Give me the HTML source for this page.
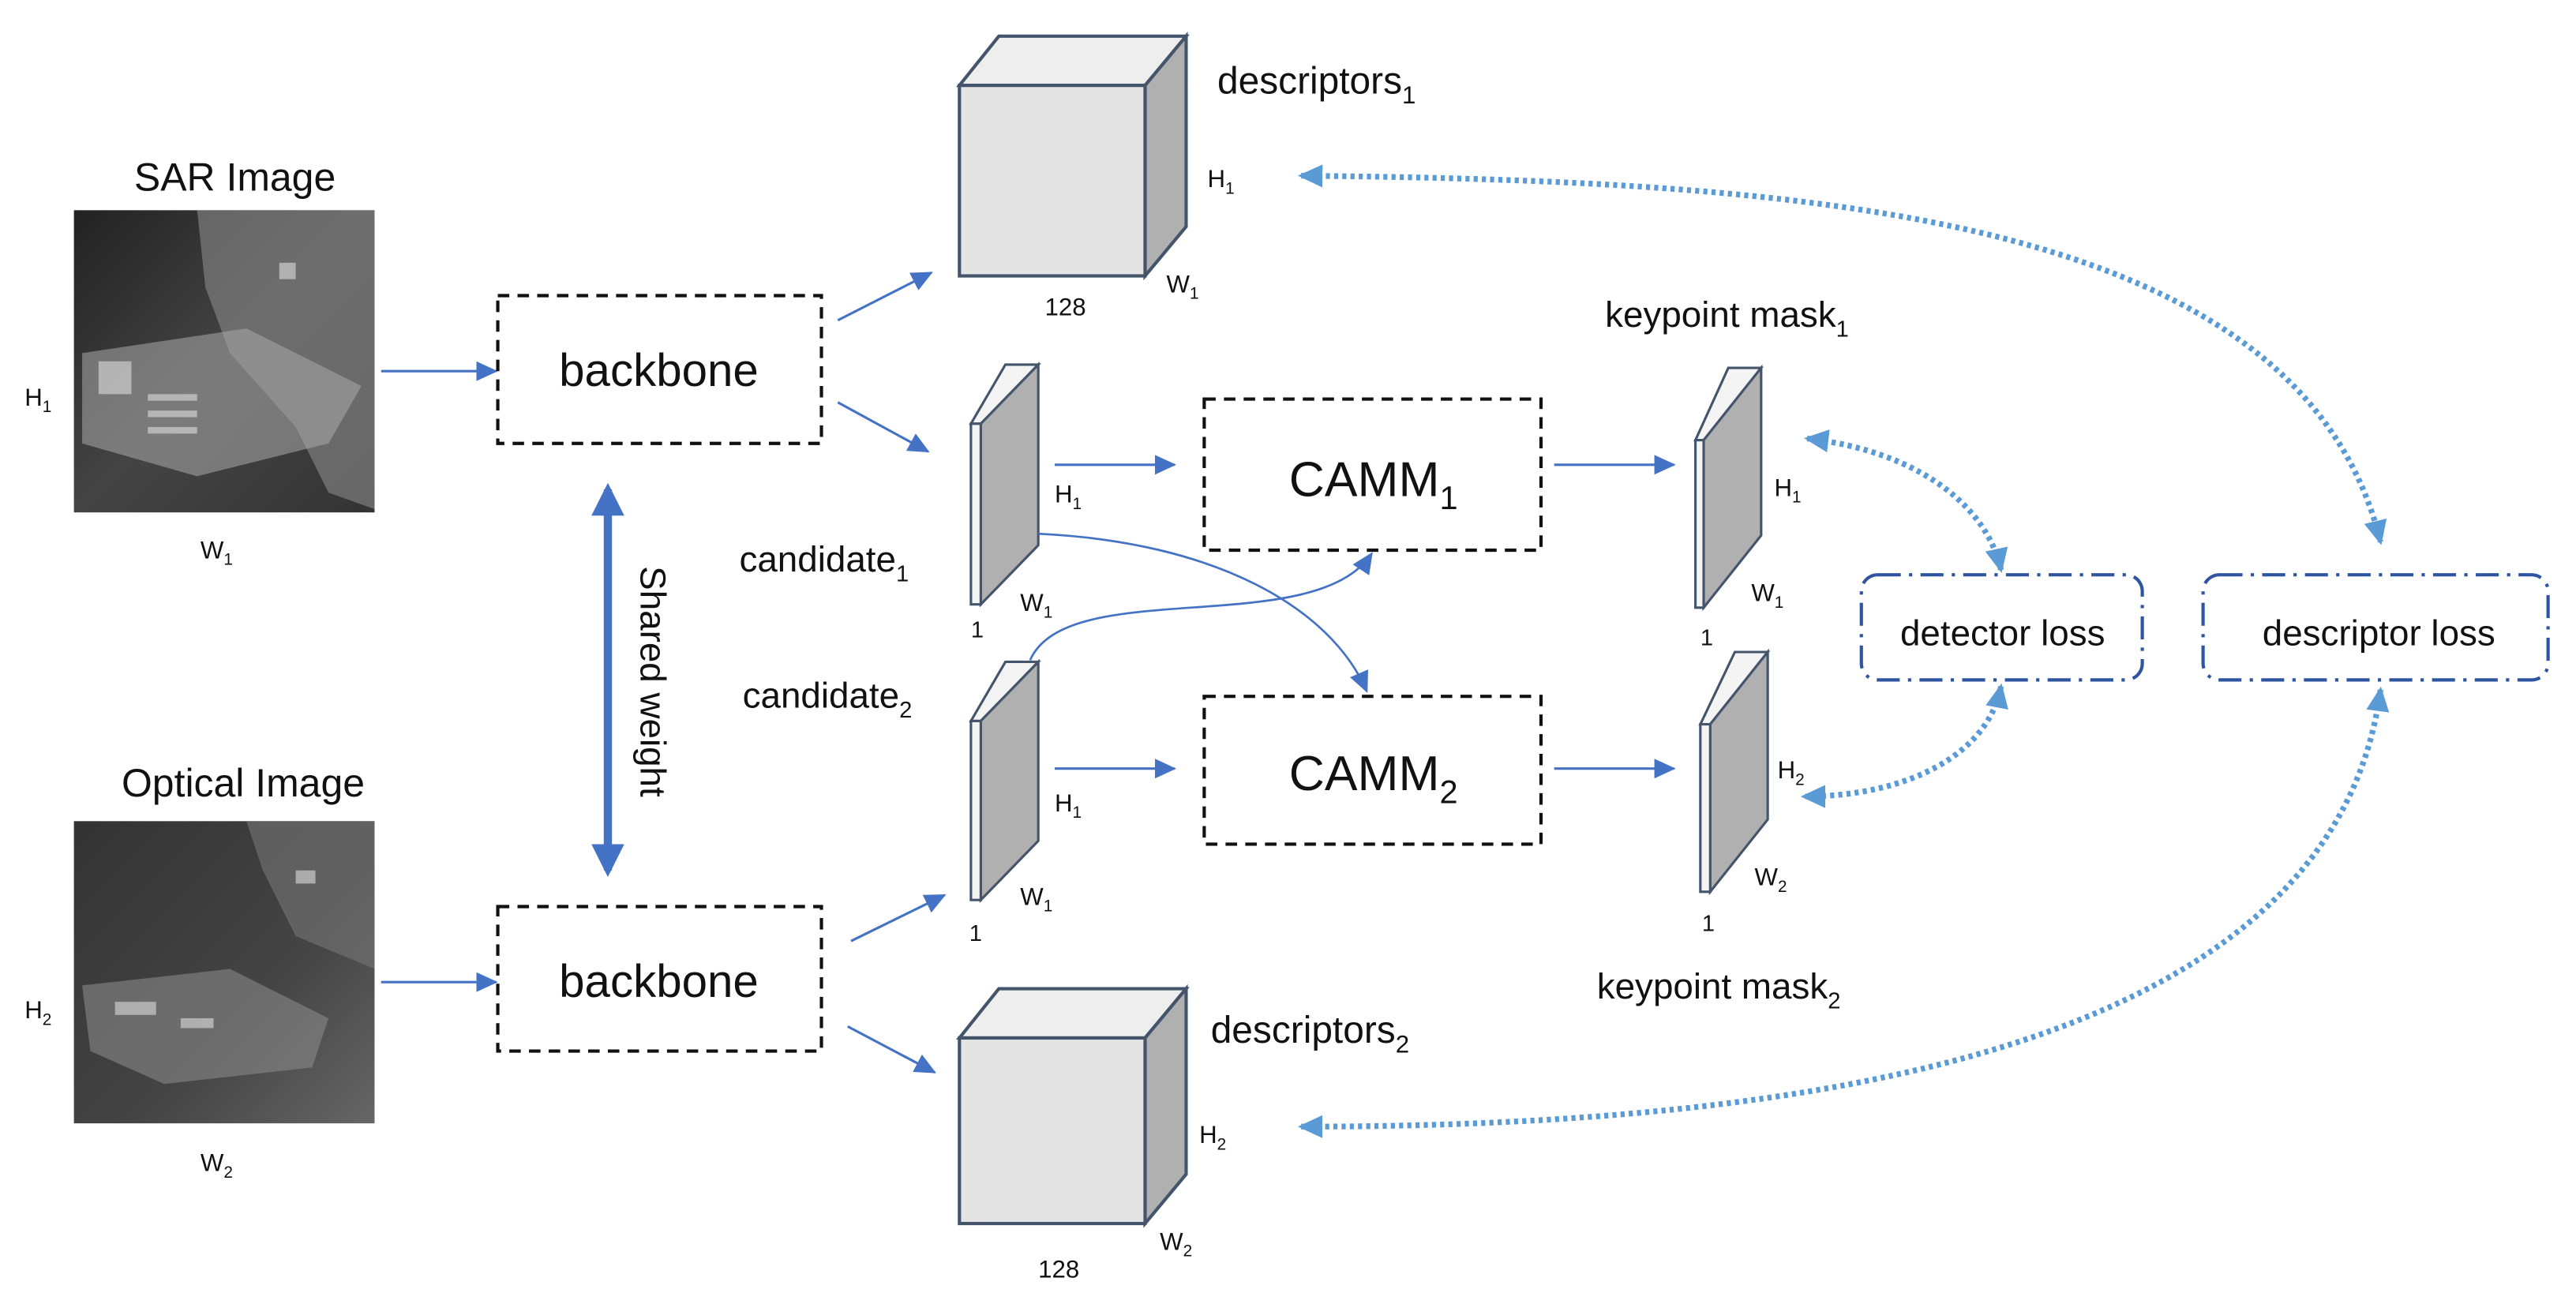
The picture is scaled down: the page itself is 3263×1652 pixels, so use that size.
<!DOCTYPE html>
<html><head><meta charset="utf-8"><style>
html,body{margin:0;padding:0;background:#fff;}
svg{display:block;}
text{font-family:"Liberation Sans",sans-serif;fill:#111;}
</style></head><body>
<svg width="3263" height="1652" viewBox="0 0 1568 794" preserveAspectRatio="none" xmlns="http://www.w3.org/2000/svg">
<defs>
<marker id="a" markerWidth="13" markerHeight="12" refX="12" refY="6" orient="auto" markerUnits="userSpaceOnUse"><path d="M0,0 L13,6 L0,12 z" fill="#4472c4"/></marker>
<marker id="d" markerWidth="16" markerHeight="16" refX="13" refY="8" orient="auto-start-reverse" markerUnits="userSpaceOnUse"><path d="M0,1 L15,8 L0,15 z" fill="#5b9bd5"/></marker>
<marker id="t" markerWidth="24" markerHeight="24" refX="16" refY="12" orient="auto-start-reverse" markerUnits="userSpaceOnUse"><path d="M0,2 L20,12 L0,22 z" fill="#4472c4"/></marker>
<linearGradient id="sar" x1="0" y1="0" x2="1" y2="1"><stop offset="0" stop-color="#222"/><stop offset="0.5" stop-color="#444"/><stop offset="1" stop-color="#333"/></linearGradient>
<linearGradient id="opt" x1="0" y1="0" x2="1" y2="1"><stop offset="0" stop-color="#333"/><stop offset="0.6" stop-color="#444"/><stop offset="1" stop-color="#666"/></linearGradient>
</defs>

<!-- SAR image -->
<text x="143" y="116" font-size="24" text-anchor="middle">SAR Image</text>
<rect x="45" y="128" width="183" height="184" fill="url(#sar)"/>
<path d="M120,128 L228,128 L228,310 L200,300 L180,260 L140,215 L125,175 z" fill="#8a8a8a" opacity="0.6"/>
<path d="M50,215 L150,200 L220,235 L200,270 L120,290 L50,270 z" fill="#aaa" opacity="0.55"/>
<g fill="#ddd" opacity="0.6"><rect x="90" y="240" width="30" height="4"/><rect x="90" y="250" width="30" height="4"/><rect x="90" y="260" width="30" height="4"/><rect x="170" y="160" width="10" height="10"/><rect x="60" y="220" width="20" height="20"/></g>
<text x="15" y="247" font-size="15">H<tspan font-size="10" dy="4">1</tspan></text>
<text x="122" y="340" font-size="15">W<tspan font-size="10" dy="4">1</tspan></text>
<line x1="232" y1="226" x2="302" y2="226" stroke="#4472c4" stroke-width="1.5" marker-end="url(#a)"/>
<rect x="303" y="180" width="197" height="90" fill="none" stroke="#111" stroke-width="2" stroke-dasharray="7,5"/>
<text x="401" y="235" font-size="28" text-anchor="middle">backbone</text>
<line x1="510" y1="195" x2="567" y2="166" stroke="#4472c4" stroke-width="1.5" marker-end="url(#a)"/>
<line x1="510" y1="245" x2="565" y2="275" stroke="#4472c4" stroke-width="1.5" marker-end="url(#a)"/>

<!-- cube 1 -->
<polygon points="584,52 608,22 722,22 697,52" fill="#eee" stroke="#44546a" stroke-width="2"/>
<polygon points="697,52 722,22 722,138 697,168" fill="#b0b0b0" stroke="#44546a" stroke-width="2"/>
<rect x="584" y="52" width="113" height="116" fill="#e4e4e4" stroke="#44546a" stroke-width="2"/>
<text x="741" y="57" font-size="23">descriptors<tspan font-size="15" dy="6">1</tspan></text>
<text x="735" y="114" font-size="15">H<tspan font-size="10" dy="4">1</tspan></text>
<text x="710" y="178" font-size="15">W<tspan font-size="10" dy="4">1</tspan></text>
<text x="636" y="192" font-size="15">128</text>

<!-- candidate1 -->
<polygon points="591,258 612,222 632,222 597,258" fill="#f4f4f4" stroke="#44546a" stroke-width="1.5"/>
<polygon points="597,258 632,222 632,332 597,368" fill="#b0b0b0" stroke="#44546a" stroke-width="1.5"/>
<rect x="591" y="258" width="6" height="110" fill="#f4f4f4" stroke="#44546a" stroke-width="1.5"/>
<text x="450" y="348" font-size="22">candidate<tspan font-size="14" dy="6">1</tspan></text>
<text x="642" y="306" font-size="15">H<tspan font-size="10" dy="4">1</tspan></text>
<text x="621" y="372" font-size="15">W<tspan font-size="10" dy="4">1</tspan></text>
<text x="591" y="388" font-size="14">1</text>
<line x1="642" y1="283" x2="715" y2="283" stroke="#4472c4" stroke-width="1.5" marker-end="url(#a)"/>
<rect x="733" y="243" width="205" height="92" fill="none" stroke="#111" stroke-width="2" stroke-dasharray="7,5"/>
<text x="836" y="302" font-size="30" text-anchor="middle">CAMM<tspan font-size="20" dy="8">1</tspan></text>
<line x1="946" y1="283" x2="1019" y2="283" stroke="#4472c4" stroke-width="1.5" marker-end="url(#a)"/>

<!-- candidate2 -->
<polygon points="591,439 612,403 632,403 597,439" fill="#f4f4f4" stroke="#44546a" stroke-width="1.5"/>
<polygon points="597,439 632,403 632,512 597,548" fill="#b0b0b0" stroke="#44546a" stroke-width="1.5"/>
<rect x="591" y="439" width="6" height="109" fill="#f4f4f4" stroke="#44546a" stroke-width="1.5"/>
<text x="452" y="431" font-size="22">candidate<tspan font-size="14" dy="6">2</tspan></text>
<text x="642" y="494" font-size="15">H<tspan font-size="10" dy="4">1</tspan></text>
<text x="621" y="551" font-size="15">W<tspan font-size="10" dy="4">1</tspan></text>
<text x="590" y="573" font-size="14">1</text>
<line x1="642" y1="468" x2="715" y2="468" stroke="#4472c4" stroke-width="1.5" marker-end="url(#a)"/>
<rect x="733" y="424" width="205" height="90" fill="none" stroke="#111" stroke-width="2" stroke-dasharray="7,5"/>
<text x="836" y="481" font-size="30" text-anchor="middle">CAMM<tspan font-size="20" dy="8">2</tspan></text>
<line x1="946" y1="468" x2="1019" y2="468" stroke="#4472c4" stroke-width="1.5" marker-end="url(#a)"/>

<!-- crossing curves -->
<path d="M632,325 C740,330 810,370 832,421" fill="none" stroke="#4472c4" stroke-width="1.3" marker-end="url(#a)"/>
<path d="M627,402 C650,350 800,390 835,337" fill="none" stroke="#4472c4" stroke-width="1.3" marker-end="url(#a)"/>

<!-- keypoint masks -->
<text x="977" y="199" font-size="22">keypoint mask<tspan font-size="14" dy="6">1</tspan></text>
<polygon points="1032,268 1052,224 1072,224 1037,268" fill="#f4f4f4" stroke="#44546a" stroke-width="1.5"/>
<polygon points="1037,268 1072,224 1072,326 1037,370" fill="#b0b0b0" stroke="#44546a" stroke-width="1.5"/>
<rect x="1032" y="268" width="5" height="102" fill="#f4f4f4" stroke="#44546a" stroke-width="1.5"/>
<text x="1080" y="302" font-size="15">H<tspan font-size="10" dy="4">1</tspan></text>
<text x="1066" y="366" font-size="15">W<tspan font-size="10" dy="4">1</tspan></text>
<text x="1035" y="393" font-size="14">1</text>

<polygon points="1035,441 1056,397 1076,397 1041,441" fill="#f4f4f4" stroke="#44546a" stroke-width="1.5"/>
<polygon points="1041,441 1076,397 1076,499 1041,543" fill="#b0b0b0" stroke="#44546a" stroke-width="1.5"/>
<rect x="1035" y="441" width="6" height="102" fill="#f4f4f4" stroke="#44546a" stroke-width="1.5"/>
<text x="1082" y="474" font-size="15">H<tspan font-size="10" dy="4">2</tspan></text>
<text x="1068" y="539" font-size="15">W<tspan font-size="10" dy="4">2</tspan></text>
<text x="1036" y="567" font-size="14">1</text>
<text x="972" y="608" font-size="22">keypoint mask<tspan font-size="14" dy="6">2</tspan></text>

<!-- loss boxes -->
<rect x="1133" y="350" width="171" height="64" rx="10" fill="none" stroke="#2f55a0" stroke-width="2" stroke-dasharray="14,5,2,5"/>
<text x="1219" y="393" font-size="22" text-anchor="middle">detector loss</text>
<rect x="1341" y="350" width="210" height="64" rx="10" fill="none" stroke="#2f55a0" stroke-width="2" stroke-dasharray="14,5,2,5"/>
<text x="1448" y="393" font-size="22" text-anchor="middle">descriptor loss</text>

<!-- dotted arrows -->
<g fill="none" stroke="#5b9bd5" stroke-width="3.5" stroke-dasharray="2.5,2.5">
<path d="M1100,267 C1170,275 1210,310 1218,347" marker-start="url(#d)" marker-end="url(#d)"/>
<path d="M1218,418 C1210,460 1160,485 1098,485" marker-start="url(#d)" marker-end="url(#d)"/>
<path d="M792,107 C1100,110 1400,130 1449,330" marker-start="url(#d)" marker-end="url(#d)"/>
<path d="M1449,420 C1420,640 1100,686 792,686" marker-start="url(#d)" marker-end="url(#d)"/>
</g>

<!-- shared weight -->
<line x1="370" y1="298" x2="370" y2="530" stroke="#4472c4" stroke-width="5" marker-start="url(#t)" marker-end="url(#t)"/>
<text x="0" y="0" font-size="22" transform="translate(390,415) rotate(90)" text-anchor="middle">Shared weight</text>

<!-- optical image -->
<text x="148" y="485" font-size="24" text-anchor="middle">Optical Image</text>
<rect x="45" y="500" width="183" height="184" fill="url(#opt)"/>
<path d="M150,500 L228,500 L228,590 L180,570 L160,530 z" fill="#777" opacity="0.6"/>
<path d="M50,600 L140,590 L200,620 L190,650 L100,660 L55,640 z" fill="#888" opacity="0.6"/>
<g fill="#ddd" opacity="0.6"><rect x="70" y="610" width="25" height="8"/><rect x="110" y="620" width="20" height="6"/><rect x="180" y="530" width="12" height="8"/></g>
<text x="15" y="620" font-size="15">H<tspan font-size="10" dy="4">2</tspan></text>
<text x="122" y="713" font-size="15">W<tspan font-size="10" dy="4">2</tspan></text>
<line x1="232" y1="598" x2="302" y2="598" stroke="#4472c4" stroke-width="1.5" marker-end="url(#a)"/>
<rect x="303" y="552" width="197" height="88" fill="none" stroke="#111" stroke-width="2" stroke-dasharray="7,5"/>
<text x="401" y="607" font-size="28" text-anchor="middle">backbone</text>
<line x1="518" y1="573" x2="575" y2="545" stroke="#4472c4" stroke-width="1.5" marker-end="url(#a)"/>
<line x1="516" y1="625" x2="569" y2="653" stroke="#4472c4" stroke-width="1.5" marker-end="url(#a)"/>

<!-- cube 2 -->
<polygon points="584,632 608,602 722,602 697,632" fill="#eee" stroke="#44546a" stroke-width="2"/>
<polygon points="697,632 722,602 722,715 697,745" fill="#b0b0b0" stroke="#44546a" stroke-width="2"/>
<rect x="584" y="632" width="113" height="113" fill="#e4e4e4" stroke="#44546a" stroke-width="2"/>
<text x="737" y="635" font-size="23">descriptors<tspan font-size="15" dy="6">2</tspan></text>
<text x="730" y="696" font-size="15">H<tspan font-size="10" dy="4">2</tspan></text>
<text x="706" y="761" font-size="15">W<tspan font-size="10" dy="4">2</tspan></text>
<text x="632" y="778" font-size="15">128</text>
</svg>
</body></html>
